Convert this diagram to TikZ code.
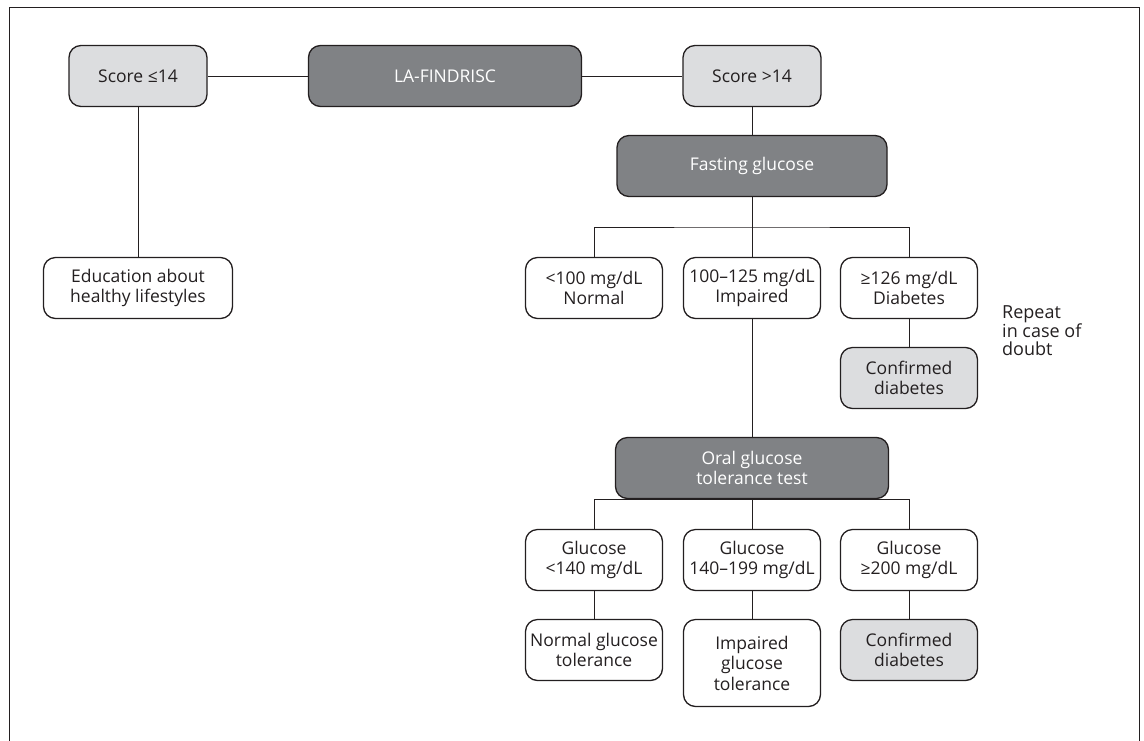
\documentclass[tikz,border=0pt]{standalone}
\usepackage{fontspec}
\setmainfont{Open Sans}
\usepackage{xcolor}
\usepackage{tikz}

\definecolor{darkbox}{HTML}{808285}
\definecolor{lightbox}{HTML}{DCDDDF}
\definecolor{edge}{HTML}{231F20}

\tikzset{
  box/.style={draw=edge, line width=1.3pt, rounded corners=12pt, align=center,
    minimum width=137pt, minimum height=61pt, inner sep=1pt,
    font=\fontsize{17.5}{20.5}\selectfont, text=edge},
  darkstep/.style={box, fill=darkbox, text=white, minimum width=273pt},
  lightstep/.style={box, fill=lightbox},
  link/.style={draw=edge, line width=1pt}
}

\begin{document}
\begin{tikzpicture}[x=1pt,y=-1pt]
\useasboundingbox (0,0) rectangle (1144,740);
\draw[edge, line width=1pt] (9,745) -- (9,7) -- (1139,7) -- (1139,745);

% first level
\node[darkstep] (findrisc) at (445,76) {LA-FINDRISC};
\node[lightstep, minimum width=138pt] (lowscore) at (138,76) {Score ≤14};
\node[lightstep, minimum width=138pt] (highscore) at (752,76) {Score >14};
\node[box, minimum width=189pt] (edu) at (138,288) {Education about\\healthy lifestyles};

% fasting glucose
\node[darkstep, minimum width=270pt] (fasting) at (752,166) {Fasting glucose};
\node[box] (normal) at (594,288) {<100 mg/dL\\Normal};
\node[box] (impaired) at (752,288) {100–125 mg/dL\\Impaired};
\node[box] (diabetes) at (909,288) {≥126 mg/dL\\Diabetes};
\node[lightstep] (confirmA) at (909,378) {Confirmed\\diabetes};
\node[align=left, anchor=west, inner sep=0pt, text=edge,
  font=\fontsize{18}{18}\selectfont] (repeat) at (1002,331) {Repeat\\in case of\\doubt};
\coordinate (forkA) at (752,227);

% oral glucose tolerance test
\node[darkstep] (ogtt) at (752,468) {Oral glucose\\tolerance test};
\node[box] (gluA) at (594,560) {Glucose\\<140 mg/dL};
\node[box] (gluB) at (752,560) {Glucose\\140–199 mg/dL};
\node[box] (gluC) at (909,560) {Glucose\\≥200 mg/dL};
\node[box] (ngt) at (594,650) {Normal glucose\\tolerance};
\node[box, minimum height=87pt] (igt) at (752,663) {Impaired\\glucose\\tolerance};
\node[lightstep] (confirmB) at (909,650) {Confirmed\\diabetes};

% connectors
\draw[link] (lowscore) -- (findrisc);
\draw[link] (findrisc) -- (highscore);
\draw[link] (lowscore) -- (edu);
\draw[link, line width=0.6pt] (highscore) -- (fasting);
\draw[link] (fasting) -- (forkA);
\draw[link] (normal.north) |- (forkA) -| (diabetes.north);
\draw[link] (forkA) -- (impaired);
\draw[link] (diabetes) -- (confirmA);
\draw[link] (impaired) -- (ogtt);
\draw[link] (gluA.north) |- (ogtt.south) -| (gluC.north);
\draw[link] (ogtt) -- (gluB);
\draw[link] (gluA) -- (ngt);
\draw[link] (gluB) -- (igt);
\draw[link] (gluC) -- (confirmB);
\end{tikzpicture}
\end{document}
